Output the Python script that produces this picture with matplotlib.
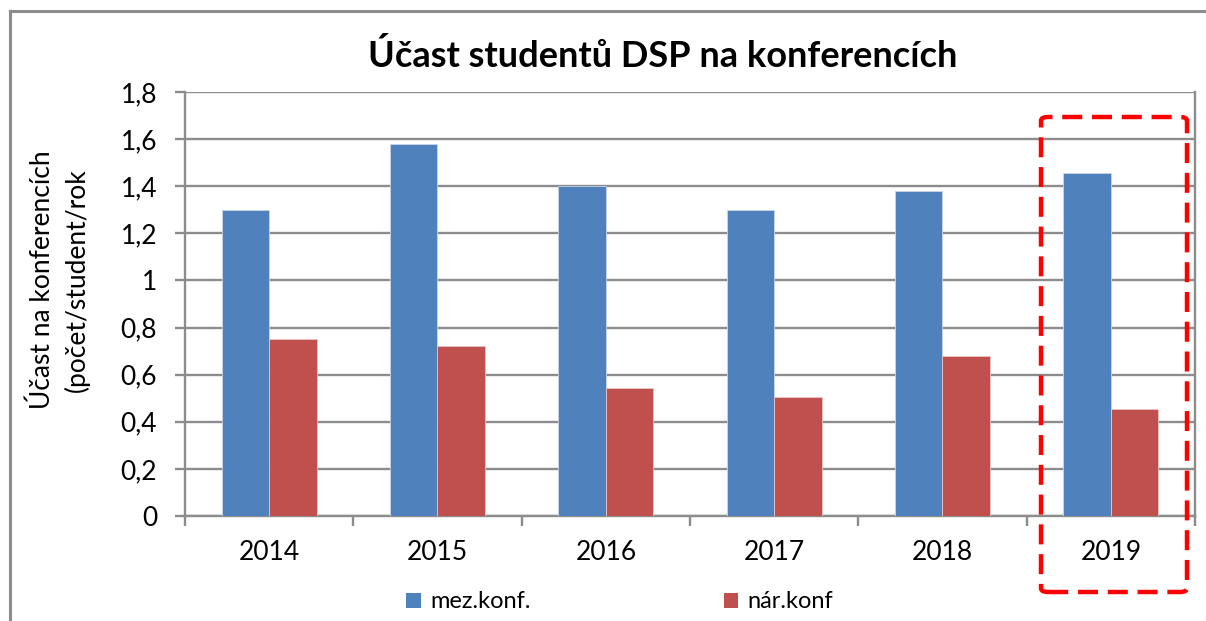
import matplotlib
matplotlib.use("Agg")
import matplotlib.pyplot as plt
import numpy as np
from matplotlib.patches import FancyBboxPatch, Patch
from matplotlib.lines import Line2D
from matplotlib.ticker import FuncFormatter, FixedLocator

plt.rcParams['font.family'] = ['Lato', 'DejaVu Sans']

years = ["2014", "2015", "2016", "2017", "2018", "2019"]
mez_konf = [1.30, 1.58, 1.40, 1.30, 1.38, 1.455]
nar_konf = [0.75, 0.72, 0.545, 0.505, 0.68, 0.455]
series_names = ["mez.konf.", "nár.konf"]
title = "Účast studentů DSP na konferencích"
ylabel = "Účast na konferencích\n(počet/student/rok"

W, H = 1206, 621
fig = plt.figure(figsize=(W / 100, H / 100), dpi=100)

def fx(px):
    return px / W

def fy(py):
    return 1 - py / H

ax = fig.add_axes([fx(185), fy(516), fx(1195) - fx(185), fy(92) - fy(516)])

grid_c = "#8c8c8c"
blue = "#4F81BD"
red = "#C0504D"

x = np.arange(len(years))
bw = 0.283
ax.bar(x - bw / 2, mez_konf, bw, color=blue, edgecolor="#c9d6ea", linewidth=0.6, zorder=3, label=series_names[0])
ax.bar(x + bw / 2, nar_konf, bw, color=red, edgecolor="#e8c6c5", linewidth=0.6, zorder=3, label=series_names[1])

ax.set_xlim(-0.5, len(years) - 0.5)
ax.set_ylim(0, 1.8)
ax.set_yticks(np.arange(0, 1.81, 0.2))
ax.yaxis.set_major_formatter(FuncFormatter(lambda v, p: f"{round(v, 1):g}".replace(".", ",")))
ax.yaxis.grid(True, color=grid_c, linewidth=1.7, zorder=0)

ax.set_xticks(x)
ax.set_xticklabels(years)
ax.xaxis.set_minor_locator(FixedLocator(np.arange(-0.5, len(years), 1.0)))
ax.tick_params(axis="x", which="major", length=0, pad=17, labelsize=19)
ax.tick_params(axis="x", which="minor", length=7, width=1.7, color=grid_c, direction="out")
ax.tick_params(axis="y", length=7, width=1.7, color=grid_c, direction="out", labelsize=19, pad=13)

for s in ["left", "bottom", "right"]:
    ax.spines[s].set_color(grid_c)
    ax.spines[s].set_linewidth(1.7)
ax.spines["top"].set_visible(False)

fig.text(fx(663), fy(56), title, ha="center", va="center", fontsize=26, fontweight="bold")
fig.text(fx(60), fy(280), ylabel, ha="center", va="center", rotation=90, fontsize=19, linespacing=1.4)

handles = [Patch(facecolor=blue), Patch(facecolor=red)]
leg = fig.legend(handles, series_names, loc="center left", bbox_to_anchor=(fx(397), fy(602)),
                 ncol=2, frameon=False, fontsize=17, handlelength=0.6, handleheight=0.6,
                 handletextpad=0.4, columnspacing=8.2, borderaxespad=0)

# outer chart frame
fig.add_artist(Line2D([fx(10), fx(10)], [fy(11), 0], color="#8c8c8c", linewidth=2.2))
fig.add_artist(Line2D([fx(10), 1], [fy(11), fy(11)], color="#8c8c8c", linewidth=2.2))

# highlight box around 2019
box = FancyBboxPatch((fx(1041), fy(592)), fx(1187) - fx(1041), fy(117) - fy(592),
                     boxstyle="round,pad=0,rounding_size=0.006", transform=fig.transFigure,
                     fill=False, edgecolor="#ff0000", linewidth=3.2, linestyle=(0, (4.5, 2.2)),
                     zorder=10)
fig.add_artist(box)

fig.savefig("out.png", dpi=100)
